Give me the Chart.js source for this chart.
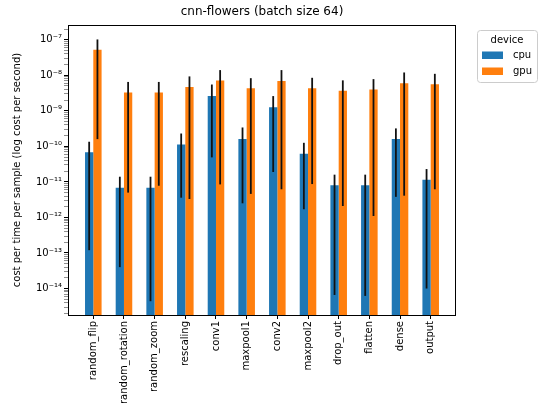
<!DOCTYPE html>
<html>
<head>
<meta charset="utf-8">
<script src="https://cdn.jsdelivr.net/npm/chart.js@4/dist/chart.umd.min.js"></script>
<style>
  html, body { margin: 0; padding: 0; background: #fff; }
  canvas { display: block; }
</style>
</head>
<body>
<canvas id="chart" width="540" height="415"></canvas>
<script>
// Layers of the cnn-flowers model
const categories = ['random_flip', 'random_rotation', 'random_zoom', 'rescaling', 'conv1', 'maxpool1',
                    'conv2', 'maxpool2', 'drop_out', 'flatten', 'dense', 'output'];

// Mean cost per sample per second, and the error bar ends, per device
const cpuCost = [6.8e-11, 6.9e-12, 6.9e-12, 1.12e-10, 2.6e-9, 1.6e-10, 1.26e-9, 6.2e-11, 8.1e-12, 8.1e-12, 1.6e-10, 1.15e-11];
const cpuLow  = [1.2e-13, 4.0e-14, 4.4e-15, 3.6e-12, 4.9e-11, 2.5e-12, 1.9e-11, 1.7e-12, 6.6e-15, 6.2e-15, 3.8e-12, 1.0e-14];
const cpuHigh = [1.35e-10, 1.4e-11, 1.4e-11, 2.3e-10, 5.5e-9, 3.4e-10, 2.6e-9, 1.26e-10, 1.6e-11, 1.6e-11, 3.2e-10, 2.3e-11];

const gpuCost = [5.2e-8, 3.3e-9, 3.3e-9, 4.7e-9, 7.1e-9, 4.3e-9, 6.9e-9, 4.3e-9, 3.7e-9, 4.0e-9, 6.0e-9, 5.6e-9];
const gpuLow  = [1.6e-10, 5.0e-12, 7.8e-12, 3.3e-12, 8.5e-12, 4.6e-12, 6.2e-12, 8.7e-12, 2.1e-12, 1.1e-12, 4.1e-12, 6.2e-12];
const gpuHigh = [1.02e-7, 6.5e-9, 6.5e-9, 9.3e-9, 1.4e-8, 8.3e-9, 1.4e-8, 8.5e-9, 7.2e-9, 7.8e-9, 1.2e-8, 1.1e-8];

// Labelled decades on the log axis and the axis range
const yExponents = [-14, -13, -12, -11, -10, -9, -8, -7];
const yMin = 1.8e-15;
const yMax = 2.6e-7;

const FONT = "'DejaVu Sans', sans-serif";
const SUP = {'-': '\u207B', '0': '\u2070', '1': '\u00B9', '2': '\u00B2', '3': '\u00B3',
             '4': '\u2074', '5': '\u2075', '6': '\u2076', '7': '\u2077', '8': '\u2078', '9': '\u2079'};
const sup = n => String(n).split('').map(c => SUP[c]).join('');

const toPoints = arr => arr.map((v, i) => ({x: i, y: v}));

// Vertical error bars drawn from each dataset's low/high arrays
const errorBars = {
  id: 'errorBars',
  afterDatasetsDraw(chart) {
    const {ctx, scales: {y}} = chart;
    ctx.save();
    ctx.strokeStyle = '#111';
    ctx.lineWidth = 1.8;
    chart.data.datasets.forEach((ds, di) => {
      const meta = chart.getDatasetMeta(di);
      meta.data.forEach((bar, i) => {
        ctx.beginPath();
        ctx.moveTo(bar.x, y.getPixelForValue(ds.errLow[i]));
        ctx.lineTo(bar.x, y.getPixelForValue(ds.errHigh[i]));
        ctx.stroke();
      });
    });
    ctx.restore();
  }
};

// Axes frame, title and legend box
const frame = {
  id: 'frame',
  afterDraw(chart) {
    const {ctx, chartArea: a} = chart;
    ctx.save();
    ctx.strokeStyle = '#000';
    ctx.lineWidth = 1;
    ctx.strokeRect(Math.round(a.left) + 0.5, Math.round(a.top) + 0.5,
                   Math.round(a.right - a.left) - 1, Math.round(a.bottom - a.top));

    ctx.fillStyle = '#000';
    ctx.font = '12px ' + FONT;
    ctx.textAlign = 'center';
    ctx.textBaseline = 'middle';
    ctx.fillText('cnn-flowers (batch size 64)', (a.left + a.right) / 2, 12);

    // legend
    const lx = 477, ly = 30, lw = 60, lh = 52;
    ctx.beginPath();
    ctx.roundRect(lx + 0.5, ly + 0.5, lw, lh, 3);
    ctx.fillStyle = 'rgba(255,255,255,0.8)';
    ctx.fill();
    ctx.strokeStyle = '#cccccc';
    ctx.stroke();
    ctx.font = '10px ' + FONT;
    ctx.fillStyle = '#000';
    ctx.textAlign = 'center';
    ctx.fillText('device', lx + lw / 2, 40);
    chart.data.datasets.forEach((ds, i) => {
      const cy = 55 + i * 16;
      ctx.fillStyle = ds.backgroundColor;
      ctx.fillRect(482, cy - 3.5, 21, 7.5);
      ctx.fillStyle = '#000';
      ctx.textAlign = 'left';
      ctx.fillText(ds.label, 513, cy);
    });
    ctx.restore();
  }
};

new Chart(document.getElementById('chart'), {
  type: 'bar',
  data: {
    datasets: [
      {label: 'cpu', data: toPoints(cpuCost), errLow: cpuLow, errHigh: cpuHigh,
       backgroundColor: '#1f77b4'},
      {label: 'gpu', data: toPoints(gpuCost), errLow: gpuLow, errHigh: gpuHigh,
       backgroundColor: '#ff7f0e'}
    ]
  },
  options: {
    responsive: false,
    animation: false,
    categoryPercentage: 0.54,
    barPercentage: 1.0,
    layout: {padding: {top: 25, right: 84, left: 0, bottom: 0}},
    plugins: {
      legend: {display: false},
      title: {display: false},
      tooltip: {enabled: false}
    },
    scales: {
      x: {
        type: 'linear',
        min: -0.825,
        max: 11.825,
        offset: false,
        afterBuildTicks: s => { s.ticks = categories.map((_, i) => ({value: i})); },
        afterFit: s => { s.height = 100; },
        border: {display: false},
        grid: {display: true, offset: false, drawOnChartArea: false, drawTicks: true,
               tickLength: 4, tickColor: '#000', tickWidth: 1},
        ticks: {
          autoSkip: false,
          maxRotation: 90,
          minRotation: 90,
          padding: 2,
          color: '#000',
          font: {family: FONT, size: 10},
          callback: v => categories[v]
        }
      },
      y: {
        type: 'logarithmic',
        min: yMin,
        max: yMax,
        afterBuildTicks: s => {
          const t = [];
          for (let e = yExponents[0] - 1; e <= yExponents[yExponents.length - 1]; e++) {
            for (let m = 1; m <= 9; m++) {
              const v = Number(m + 'e' + e);
              if (v >= yMin && v <= yMax) t.push({value: v, major: m === 1});
            }
          }
          s.ticks = t;
        },
        afterFit: s => { s.width = 68; },
        border: {display: false},
        grid: {display: true, drawOnChartArea: false, drawTicks: true, tickLength: 4,
               tickColor: c => (c.tick && c.tick.major) ? '#000' : '#444',
               tickWidth: c => (c.tick && c.tick.major) ? 1 : 0.6},
        title: {
          display: true,
          text: 'cost per time per sample (log cost per second)',
          color: '#000',
          font: {family: FONT, size: 10},
          padding: {top: 11, bottom: 0}
        },
        ticks: {
          autoSkip: false,
          padding: 2,
          color: '#000',
          font: {family: FONT, size: 10},
          callback: (value, index, ticks) => {
            const t = ticks[index];
            if (!t.major) return '';
            return '10' + sup(Math.round(Math.log10(value)));
          }
        }
      }
    }
  },
  plugins: [errorBars, frame]
});
</script>
</body>
</html>
